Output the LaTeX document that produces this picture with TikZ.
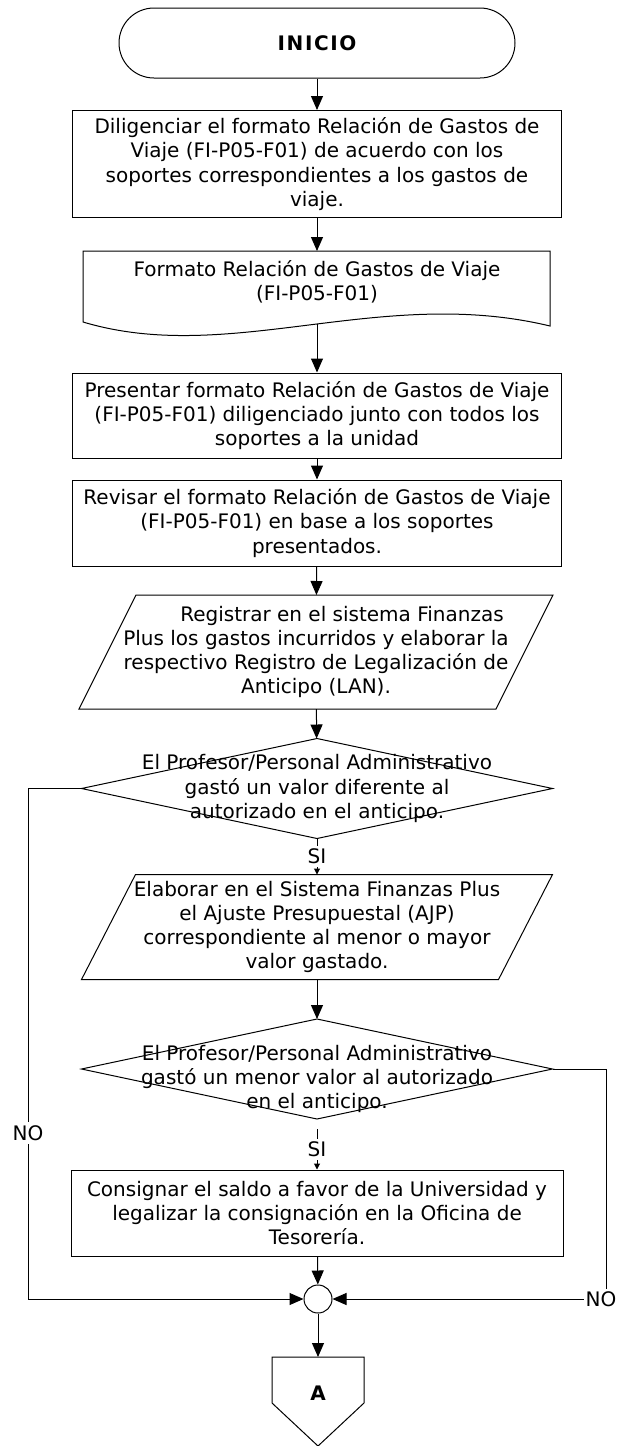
\documentclass[tikz,border=0pt]{standalone}
\usepackage{fontspec}
\setmainfont{DejaVu Sans}
\usetikzlibrary{arrows.meta}

\begin{document}
\begin{tikzpicture}[
% one unit = one pixel of the page, y runs down
x=0.5pt, y=-0.5pt,
line width=0.5pt,
base/.style={
% Font
font=\fontsize{10}{12.15}\selectfont,
align=center,
inner sep=0pt
},
terminal/.style={
base,
% The shape:
rectangle, rounded corners=17.5pt,
% The size:
minimum width=198pt, minimum height=35pt,
% The border:
draw
},
proceso/.style={
base,
rectangle,
minimum width=244.5pt,
draw
},
% outline of these two is drawn by hand
datos/.style={
base,
rectangle,
minimum width=208pt
},
decision/.style={
base,
rectangle,
minimum width=235pt, minimum height=49.5pt
},
conector/.style={
circle,
minimum size=14pt, inner sep=0pt,
draw
},
etiqueta/.style={
base,
fill=white, inner sep=1.5pt
},
flecha/.style={-{Triangle[length=7pt,width=6pt]}},
flechita/.style={-{Triangle[length=3pt,width=3pt]}}
]
\useasboundingbox (0,0) rectangle (617,1446);

\node [terminal] (inicio) at (317,43) {\bfseries I\kern0.8pt N\kern0.8pt I\kern0.8pt C\kern0.8pt I\kern0.8pt O};

\node [proceso, minimum height=53.5pt] (diligenciar) at (317,164)
{Diligenciar el formato Relación de Gastos de\\ Viaje (FI-P05-F01) de acuerdo con los\\ soportes correspondientes a los gastos de\\ viaje.};

% documento
\node [base] (formato) at (317,282) {Formato Relación de Gastos de Viaje\\ (FI-P05-F01)};
\draw (83,251) -- (550,251) -- (550,326) .. controls (380,285) and (230,366) .. (83,322) -- cycle;
\coordinate (formatoA) at (317,251);
\coordinate (formatoB) at (317,324);

\node [proceso, minimum height=42.5pt] (presentar) at (317,415.5)
{Presentar formato Relación de Gastos de Viaje\\ (FI-P05-F01) diligenciado junto con todos los\\ soportes a la unidad};

\node [proceso, minimum height=43pt] (revisar) at (317,523)
{Revisar el formato Relación de Gastos de Viaje\\ (FI-P05-F01) en base a los soportes\\ presentados.};

\node [datos, minimum height=56.5pt] (registrar) at (316,652)
{\hspace*{26pt}Registrar en el sistema Finanzas\\ Plus los gastos incurridos y elaborar la\\ respectivo Registro de Legalización de\\ Anticipo (LAN).};
\draw ([xshift=14.25pt]registrar.north west) -- ([xshift=14.25pt]registrar.north east)
  -- ([xshift=-14.25pt]registrar.south east) -- ([xshift=-14.25pt]registrar.south west) -- cycle;

\node [decision] (diferente) at (317,788.5)
{El Profesor/Personal Administrativo\\ gastó un valor diferente al\\ autorizado en el anticipo.};
\draw (diferente.north) -- (diferente.east) -- (diferente.south) -- (diferente.west) -- cycle;

\node [datos, minimum height=52pt] (elaborar) at (317,927)
{Elaborar en el Sistema Finanzas Plus\\ el Ajuste Presupuestal (AJP)\\ correspondiente al menor o mayor\\ valor gastado.};
\draw ([xshift=13.5pt]elaborar.north west) -- ([xshift=13.5pt]elaborar.north east)
  -- ([xshift=-13.5pt]elaborar.south east) -- ([xshift=-13.5pt]elaborar.south west) -- cycle;

\node [decision] (menor) at (317,1079)
{El Profesor/Personal Administrativo\\ gastó un menor valor al autorizado\\ en el anticipo.};
\draw ([yshift=5pt]menor.north) -- ([yshift=5pt]menor.east) -- ([yshift=5pt]menor.south)
  -- ([yshift=5pt]menor.west) -- cycle;
\coordinate (menorA) at ([yshift=5pt]menor.north);
\coordinate (menorD) at ([yshift=5pt]menor.east);

\node [proceso, minimum width=246pt, minimum height=43pt] (consignar) at (317,1213)
{Consignar el saldo a favor de la Universidad y\\ legalizar la consignación en la Oficina de\\ Tesorería.};

\node [conector] (union) at (318,1299) {};

% conector de pagina
\node [base, font=\fontsize{10}{12.15}\selectfont\bfseries] (paginaA) at (318,1393) {A};
\draw ([shift={(-46,-36)}]paginaA.center) -- ++(92,0) -- ++(0,46) -- ++(-46,43) -- ++(-46,-43) -- cycle;
\coordinate (paginaN) at (318,1357);

\coordinate (codoIzq) at (28,1299);
\coordinate (codoDer) at (606,1299);

\draw [flecha] (inicio) -- (diligenciar);
\draw [flecha] (diligenciar) -- (formatoA);
\draw [flecha] (formatoB) -- (presentar);
\draw [flecha] (presentar) -- (revisar);
\draw [flecha] (revisar) -- (registrar);
\draw [flecha] (registrar) -- (diferente);
\draw [flechita] (diferente) -- node [etiqueta] {SI} (elaborar);
\draw [flecha] (elaborar) -- (menorA);
\draw [flechita] (menor) -- node [etiqueta] {SI} (consignar);
\draw [flecha] (consignar) -- (union);
\draw [flecha] (union) -- (paginaN);
\draw [flecha] (diferente.west) -| (codoIzq) -- (union);
\draw [flecha] (menorD) -| (codoDer) -- (union);
\node [etiqueta] (noIzq) at (28,1133) {NO};
\node [etiqueta, inner sep=1pt] (noDer) at (601,1299) {NO};
\end{tikzpicture}
\end{document}
